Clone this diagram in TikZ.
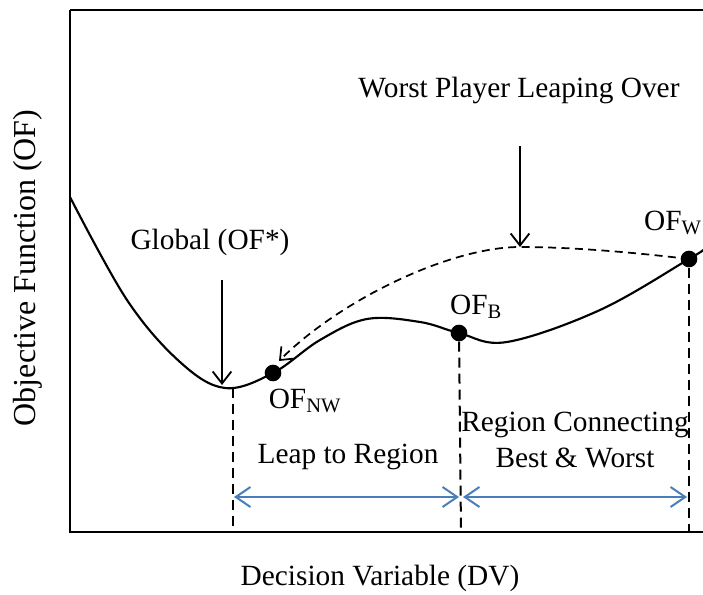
\documentclass[tikz,border=0pt]{standalone}
\usepackage{fontspec}
\setmainfont{Liberation Serif}
\usetikzlibrary{arrows.meta}
\definecolor{bluearr}{HTML}{4A7EBB}
\begin{document}
\begin{tikzpicture}[x=0.75pt,y=-0.75pt,
  lbl/.style={font=\fontsize{22}{27}\selectfont, inner sep=0pt},
  dotn/.style={circle, fill=black, inner sep=0pt, minimum size=12.5pt},
  barb/.style={-{Straight Barb[length=9pt,width=14pt]}},
  dbarb/.style={{Straight Barb[length=11pt,width=15pt]}-{Straight Barb[length=11pt,width=15pt]}},
  vdash/.style={dash pattern=on 7.5pt off 4.5pt, line width=1.5pt},
  curve/.style={line width=1.6pt}]
\useasboundingbox (0,0) rectangle (703,595);
% axes
\draw[line width=1.6pt] (70,10) -- (703,10);
\draw[line width=1.6pt] (70,10) -- (70,532) -- (703,532);
% main curve
\draw[curve] plot[smooth, tension=0.6] coordinates {(70,197) (127,300) (180,362) (225,388) (273,373) (320,340) (367,319) (420,322) (459,333) (507,342) (600,310) (689,259) (703,250)};
% points
\node[dotn] (nw) at (273,373) {};
\node[dotn] (b) at (459,333) {};
\node[dotn] (w) at (689,259) {};
% dashed leap curve
\coordinate (pk) at (520,247);
\coordinate (tipnw) at (279,361);
\draw[line width=1.3pt, dash pattern=on 6pt off 4pt, -{Straight Barb[length=8pt,width=13pt]}]
  (w.center) .. controls (630,252) and (570,247) .. (pk)
  .. controls (450,247) and (340,300) .. (tipnw);
% labels
\node[lbl] (lnw) at (305,401) {OF\textsubscript{NW}};
\node[lbl] (lb) at (476,307) {OF\textsubscript{B}};
\node[lbl] (lw) at (673,223) {OF\textsubscript{W}};
\node[lbl] (glob) at (210,242) {Global (OF*)};
\node[lbl] (worst) at (519,90) {Worst Player Leaping Over};
\coordinate (gtop) at (222,280);
\coordinate (gmin) at (222,385);
\coordinate (wtop) at (520,146);
\draw[line width=1.4pt, barb] (gtop) -- (gmin);
\draw[line width=1.4pt, barb] (wtop) -- (pk);
% dashed verticals
\coordinate (m) at (233,388);
\coordinate (m0) at (233,532);
\coordinate (b0) at (461,532);
\coordinate (w0) at (689,532);
\draw[vdash] (m) -- (m0);
\draw[vdash] (b) -- (b0);
\draw[vdash] (w) -- (w0);
% blue arrows
\coordinate (a1) at (234,497);
\coordinate (a2) at (459,497);
\coordinate (a3) at (463,497);
\coordinate (a4) at (687,497);
\draw[bluearr, line width=1.5pt, dbarb] (a1) -- (a2);
\draw[bluearr, line width=1.5pt, dbarb] (a3) -- (a4);
\node[lbl] (leap) at (348,457) {Leap to Region};
\node[lbl, align=center] (conn) at (575,440) {Region Connecting\\Best \& Worst};
\node[lbl] (xl) at (380,578) {Decision Variable (DV)};
\node[lbl, font=\fontsize{24}{28}\selectfont, rotate=90] (yl) at (28,268) {Objective Function (OF)};
\end{tikzpicture}
\end{document}
